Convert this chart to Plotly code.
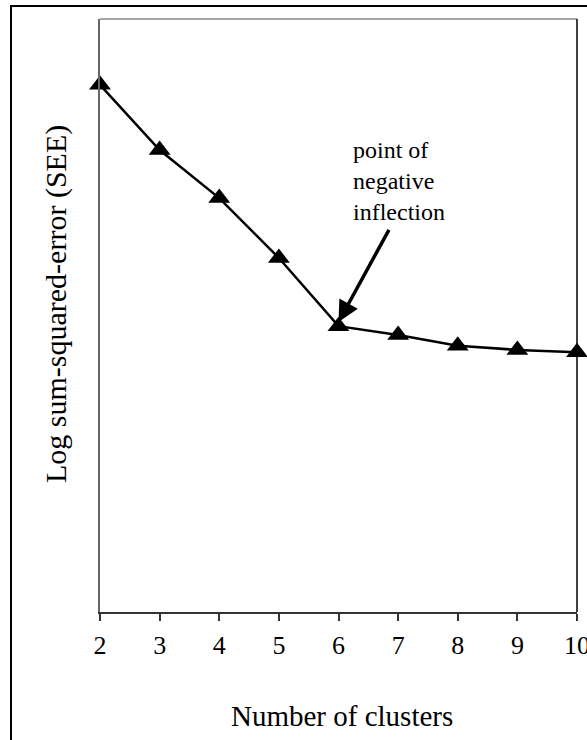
import plotly.graph_objects as go

clusters = [2, 3, 4, 5, 6, 7, 8, 9, 10]
log_sse = [88.9, 77.9, 69.8, 59.7, 48.2, 46.7, 44.9, 44.2, 43.8]
tick_labels = ["2", "3", "4", "5", "6", "7", "8", "9", "10"]

FONT = "Liberation Serif"

fig = go.Figure()
fig.add_trace(go.Scatter(
    x=clusters, y=log_sse, mode="lines+markers",
    line=dict(color="black", width=2.5),
    marker=dict(symbol="triangle-up", size=19, color="black"),
    cliponaxis=False, showlegend=False,
))

# arrow to inflection point
fig.add_annotation(
    x=6.0, y=48.9, ax=6.86, ay=64.7, axref="x", ayref="y", xref="x", yref="y",
    text="", showarrow=True, arrowhead=2, arrowsize=1.2, arrowwidth=3.5, arrowcolor="black",
)
fig.add_annotation(
    x=6.21, y=(612 - 135) / 593 * 100, xref="x", yref="y",
    xanchor="left", yanchor="top", align="left",
    text="point of<br>negative<br>inflection", showarrow=False,
    font=dict(family=FONT, size=24, color="black"),
)
# axis titles
fig.add_annotation(
    x=(342 - 100) / 477, y=(612 - 734) / 593, xref="paper", yref="paper",
    text="Number of clusters", showarrow=False,
    font=dict(family=FONT, size=29, color="black"),
)
fig.add_annotation(
    x=(37 - 100) / 477, y=(612 - 304) / 593, xref="paper", yref="paper",
    text="Log sum-squared-error (SEE)", showarrow=False, textangle=-90,
    font=dict(family=FONT, size=30, color="black"),
)

# frame lines (top, right)
fig.add_shape(type="line", xref="paper", yref="paper", x0=0, x1=1, y0=1, y1=1,
              line=dict(color="#888888", width=1.5))
fig.add_shape(type="line", xref="paper", yref="paper", x0=1, x1=1, y0=0, y1=1,
              line=dict(color="black", width=1.5))
# outer border
fig.add_shape(type="rect", xref="paper", yref="paper",
              x0=(11 - 100) / 477, x1=(600 - 100) / 477,
              y0=(612 - 760) / 593, y1=(612 - 6) / 593,
              line=dict(color="black", width=2), fillcolor="rgba(0,0,0,0)")

fig.update_xaxes(
    range=[2, 10], tickvals=clusters, ticktext=tick_labels,
    showline=True, linecolor="#333333", linewidth=1.5, mirror=False,
    ticks="outside", ticklen=7, tickwidth=1.5, tickcolor="#333333",
    showgrid=False, zeroline=False, automargin=False,
    tickfont=dict(family=FONT, size=26, color="black"),
    ticklabelstandoff=2, ticklabeloverflow="allow",
)
fig.update_yaxes(
    range=[0, 100], showline=True, linecolor="#666666", linewidth=1.5,
    showticklabels=False, ticks="", showgrid=False, zeroline=False, automargin=False,
)
fig.update_layout(
    width=587, height=740,
    margin=dict(l=100, r=10, t=19, b=128),
    paper_bgcolor="white", plot_bgcolor="white",
    font=dict(family=FONT, color="black"),
)
fig.write_html("out.html", config={"displayModeBar": False},
               post_script="document.body.style.margin='0';document.body.style.overflow='hidden';")
